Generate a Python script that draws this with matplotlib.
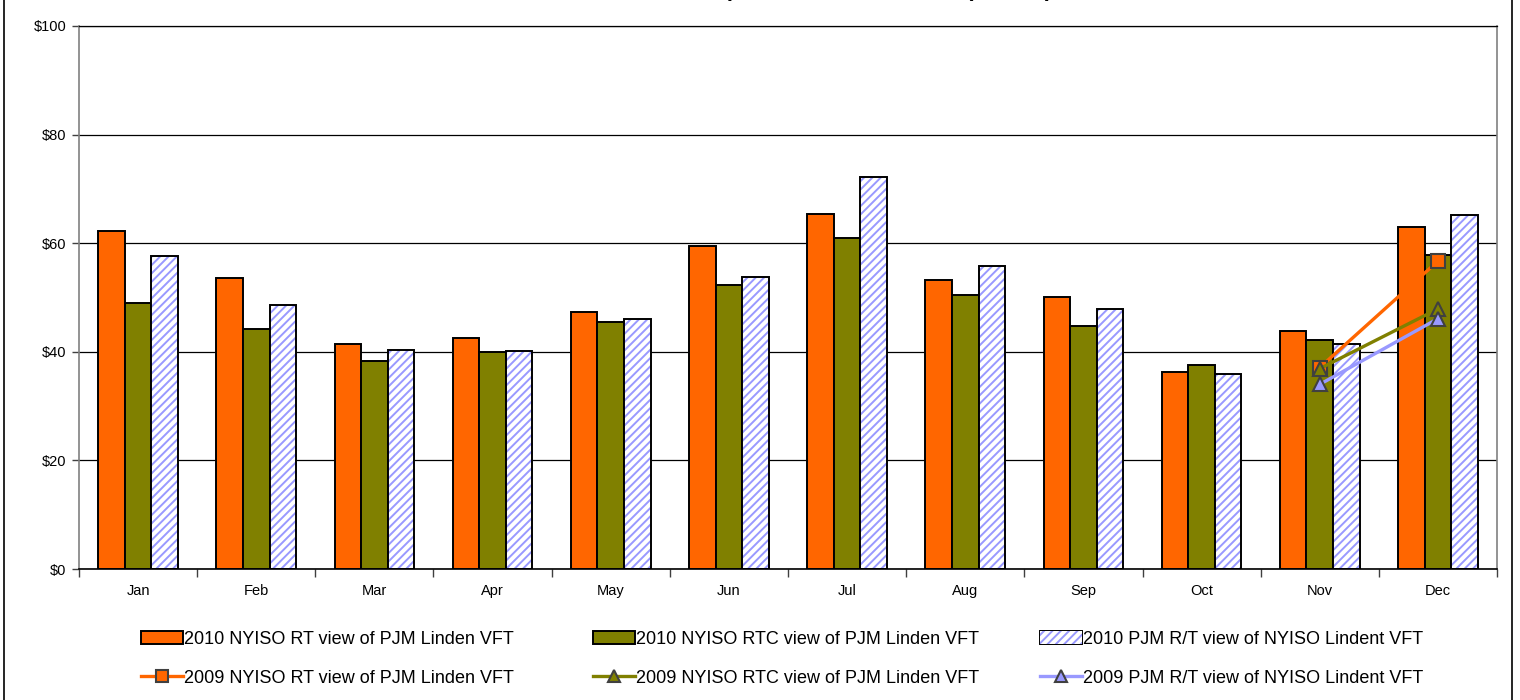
import numpy as np
import matplotlib
matplotlib.use("Agg")
import matplotlib.pyplot as plt
from matplotlib.patches import Rectangle, Patch
from matplotlib.lines import Line2D

plt.rcParams['font.family'] = ['Liberation Sans', 'DejaVu Sans']
plt.rcParams['hatch.linewidth'] = 1.4

months = ["Jan", "Feb", "Mar", "Apr", "May", "Jun",
          "Jul", "Aug", "Sep", "Oct", "Nov", "Dec"]

# 2010 monthly averages ($/MWh)
nyiso_rt_2010 = [62.2, 53.6, 41.4, 42.5, 47.3, 59.5, 65.4, 53.2, 50.1, 36.3, 43.8, 63.0]
nyiso_rtc_2010 = [49.0, 44.2, 38.3, 40.0, 45.5, 52.3, 61.0, 50.5, 44.8, 37.6, 42.2, 57.8]
pjm_rt_2010 = [57.7, 48.6, 40.3, 40.1, 46.0, 53.8, 72.2, 55.8, 47.9, 35.9, 41.5, 65.2]

# 2009 values (available for Nov and Dec only)
nyiso_rt_2009 = [None] * 10 + [37.1, 56.7]
nyiso_rtc_2009 = [None] * 10 + [36.9, 47.9]
pjm_rt_2009 = [None] * 10 + [34.0, 46.1]

title_text = "Real-Time Price Comparison at Linden VFT ($/MWh)"
labels = {
    "rt10": "2010 NYISO RT view of PJM Linden VFT",
    "rtc10": "2010 NYISO RTC view of PJM Linden VFT",
    "pjm10": "2010 PJM R/T view of NYISO Lindent VFT",
    "rt09": "2009 NYISO RT view of PJM Linden VFT",
    "rtc09": "2009 NYISO RTC view of PJM Linden VFT",
    "pjm09": "2009 PJM R/T view of NYISO Lindent VFT",
}

ORANGE = "#FF6600"
OLIVE = "#808000"
LAVENDER = "#9999FF"
MEDGE = "#404040"
HATCH = "////"

W, H = 1520, 700
fig = plt.figure(figsize=(W / 100, H / 100), dpi=100)
ax = fig.add_axes([79 / W, 1 - 569 / H, (1497 - 79) / W, (569 - 26) / H])

x = np.arange(len(months))
w = 0.225
ax.bar(x - w, nyiso_rt_2010, w, color=ORANGE, edgecolor="black", linewidth=1.4, zorder=2)
ax.bar(x, nyiso_rtc_2010, w, color=OLIVE, edgecolor="black", linewidth=1.4, zorder=2)
# hatched bars: hatch layer then outline
ax.bar(x + w, pjm_rt_2010, w, color="white", edgecolor=LAVENDER, hatch=HATCH,
       linewidth=0, zorder=2)
ax.bar(x + w, pjm_rt_2010, w, fill=False, edgecolor="black", linewidth=1.4, zorder=2.1)


def to_arr(vals):
    return np.array([np.nan if v is None else v for v in vals], dtype=float)


line_style = dict(lw=2.4, ms=10, mew=1.5, mec=MEDGE, zorder=4)
ax.plot(x, to_arr(nyiso_rt_2009), color=ORANGE, marker="s", mfc=ORANGE, **line_style)
ax.plot(x, to_arr(nyiso_rtc_2009), color=OLIVE, marker="^", mfc=OLIVE, **line_style)
ax.plot(x, to_arr(pjm_rt_2009), color=LAVENDER, marker="^", mfc=LAVENDER, **line_style)

ax.set_xlim(-0.5, 11.5)
ax.set_ylim(0, 100)
ax.set_yticks(np.arange(0, 101, 20))
ax.set_yticklabels([f"${v}" for v in range(0, 101, 20)], fontsize=10.5)
ax.yaxis.grid(True, color="black", linewidth=0.9, zorder=0)
ax.set_axisbelow(True)

ax.set_xticks(np.arange(-0.5, 12, 1))
ax.set_xticklabels([])
ax.set_xticks(x, minor=True)
ax.set_xticklabels(months, minor=True, fontsize=10.5)
ax.tick_params(axis="x", which="major", direction="out", length=6, width=1, color="#404040")
ax.tick_params(axis="x", which="minor", length=0, pad=11)
ax.tick_params(axis="y", direction="out", length=5, width=1, color="#404040", pad=4)

for side in ("left", "right"):
    ax.spines[side].set_color("#808080")
    ax.spines[side].set_linewidth(1.2)
ax.spines["top"].set_color("black")
ax.spines["top"].set_linewidth(0.9)
ax.spines["bottom"].set_color("black")
ax.spines["bottom"].set_linewidth(1.2)

# Chart title sitting at the top edge
fig.text(0.5125, 1 + 4 / H, title_text, ha="center", va="baseline",
         fontsize=16, fontweight="bold")

# Legend: three columns of two entries each
bar_handles = [
    Patch(facecolor=ORANGE, edgecolor="black", linewidth=1.4),
    Patch(facecolor=OLIVE, edgecolor="black", linewidth=1.4),
    Patch(facecolor="white", edgecolor=LAVENDER, hatch=HATCH, linewidth=0),
]
line_handles = [
    Line2D([], [], color=c, lw=2.4, marker=m, ms=9, mfc=c, mec=MEDGE, mew=1.5)
    for c, m in ((ORANGE, "s"), (OLIVE, "^"), (LAVENDER, "^"))
]
col_labels = [(labels["rt10"], labels["rt09"]),
              (labels["rtc10"], labels["rtc09"]),
              (labels["pjm10"], labels["pjm09"])]
col_x = [141, 593, 1040]
for i in range(3):
    leg = fig.legend([bar_handles[i], line_handles[i]], list(col_labels[i]),
                     loc="upper left", bbox_to_anchor=(col_x[i] / W, 1 - 631 / H),
                     frameon=False, fontsize=13, handlelength=2.3,
                     handletextpad=0.1, labelspacing=1.2, borderaxespad=0,
                     borderpad=0)
    if i == 2:
        # outline for the hatched swatch
        hp = leg.legend_handles[0]
        fig.canvas.draw()
        bb = hp.get_window_extent()
        fig.add_artist(Rectangle((bb.x0 / W, bb.y0 / H), bb.width / W, bb.height / H,
                                 transform=fig.transFigure, fill=False,
                                 edgecolor="black", linewidth=1.4))

# Outer chart border
fig.add_artist(Rectangle((4 / W, -0.01), (1512 - 4) / W, 1.02,
                         transform=fig.transFigure, fill=False,
                         edgecolor="black", linewidth=1.2))

fig.savefig("out.png", dpi=100)
